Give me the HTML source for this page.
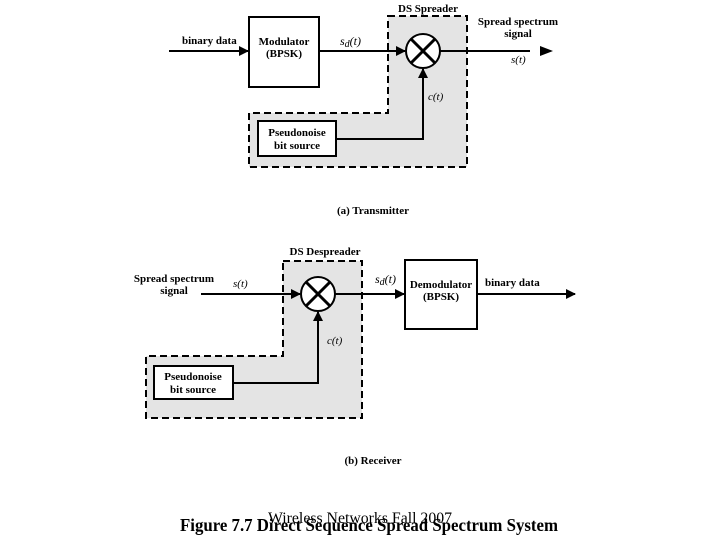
<!DOCTYPE html>
<html><head><style>
html,body{margin:0;padding:0;background:#fff;}
svg text{font-family:"Liberation Serif",serif;font-weight:bold;font-size:11px;fill:#000;}
svg text.i{font-style:italic;font-weight:normal;}
</style></head><body>
<svg width="720" height="540" viewBox="0 0 720 540" xmlns="http://www.w3.org/2000/svg">
<defs>
<marker id="a" markerWidth="10" markerHeight="10" refX="9" refY="5" orient="auto" markerUnits="userSpaceOnUse">
<path d="M0,0 L10,5 L0,10 z" fill="#000"/></marker>
</defs>
<!-- Transmitter -->
<path d="M388,16 H467 V167 H249 V113 H388 Z" fill="#e4e4e4" stroke="#000" stroke-width="2" stroke-dasharray="7,4"/>
<line x1="169" y1="51" x2="248" y2="51" stroke="#000" stroke-width="2" marker-end="url(#a)"/>
<rect x="249" y="17" width="70" height="70" fill="#fff" stroke="#000" stroke-width="2"/>
<text x="284" y="45" text-anchor="middle">Modulator</text>
<text x="284" y="57" text-anchor="middle">(BPSK)</text>
<line x1="319" y1="51" x2="405" y2="51" stroke="#000" stroke-width="2" marker-end="url(#a)"/>
<circle cx="423" cy="51" r="17" fill="#fff" stroke="#000" stroke-width="2"/>
<line x1="411" y1="39" x2="435" y2="63" stroke="#000" stroke-width="3"/>
<line x1="435" y1="39" x2="411" y2="63" stroke="#000" stroke-width="3"/>
<line x1="440" y1="51" x2="530" y2="51" stroke="#000" stroke-width="2"/>
<path d="M540,46 L553,51 L540,56 z" fill="#000"/>
<rect x="258" y="121" width="78" height="35" fill="#fff" stroke="#000" stroke-width="2"/>
<text x="297" y="136" text-anchor="middle">Pseudonoise</text>
<text x="297" y="149" text-anchor="middle">bit source</text>
<polyline points="336,139 423,139 423,69" fill="none" stroke="#000" stroke-width="2" marker-end="url(#a)"/>
<text x="182" y="44">binary data</text>
<text x="340" y="45" class="i" style="font-size:12px">s<tspan style="font-size:10px" dy="2">d</tspan><tspan dy="-2">(t)</tspan></text>
<text x="428" y="12" text-anchor="middle">DS Spreader</text>
<text x="518" y="25" text-anchor="middle">Spread spectrum</text>
<text x="518" y="37" text-anchor="middle">signal</text>
<text x="511" y="63" class="i">s(t)</text>
<text x="428" y="100" class="i">c(t)</text>
<text x="373" y="214" text-anchor="middle">(a) Transmitter</text>
<!-- Receiver -->
<path d="M283,261 H362 V418 H146 V356 H283 Z" fill="#e4e4e4" stroke="#000" stroke-width="2" stroke-dasharray="7,4"/>
<line x1="201" y1="294" x2="300" y2="294" stroke="#000" stroke-width="2" marker-end="url(#a)"/>
<circle cx="318" cy="294" r="17" fill="#fff" stroke="#000" stroke-width="2"/>
<line x1="306" y1="282" x2="330" y2="306" stroke="#000" stroke-width="3"/>
<line x1="330" y1="282" x2="306" y2="306" stroke="#000" stroke-width="3"/>
<line x1="335" y1="294" x2="404" y2="294" stroke="#000" stroke-width="2" marker-end="url(#a)"/>
<rect x="405" y="260" width="72" height="69" fill="#fff" stroke="#000" stroke-width="2"/>
<text x="441" y="288" text-anchor="middle">Demodulator</text>
<text x="441" y="300" text-anchor="middle">(BPSK)</text>
<line x1="477" y1="294" x2="575" y2="294" stroke="#000" stroke-width="2" marker-end="url(#a)"/>
<rect x="154" y="366" width="79" height="33" fill="#fff" stroke="#000" stroke-width="2"/>
<text x="193" y="380" text-anchor="middle">Pseudonoise</text>
<text x="193" y="393" text-anchor="middle">bit source</text>
<polyline points="233,383 318,383 318,312" fill="none" stroke="#000" stroke-width="2" marker-end="url(#a)"/>
<text x="174" y="282" text-anchor="middle">Spread spectrum</text>
<text x="174" y="294" text-anchor="middle">signal</text>
<text x="233" y="287" class="i">s(t)</text>
<text x="325" y="255" text-anchor="middle">DS Despreader</text>
<text x="375" y="283" class="i" style="font-size:12px">s<tspan style="font-size:10px" dy="2">d</tspan><tspan dy="-2">(t)</tspan></text>
<text x="485" y="286">binary data</text>
<text x="327" y="344" class="i">c(t)</text>
<text x="373" y="464" text-anchor="middle">(b) Receiver</text>
<!-- Footer -->
<text x="180" y="531" style="font-size:18px" textLength="378" lengthAdjust="spacingAndGlyphs">Figure 7.7  Direct Sequence Spread Spectrum System</text>
<text x="268" y="523" style="font-size:16px;font-weight:normal" textLength="184" lengthAdjust="spacingAndGlyphs">Wireless Networks Fall 2007</text>
</svg>
</body></html>
